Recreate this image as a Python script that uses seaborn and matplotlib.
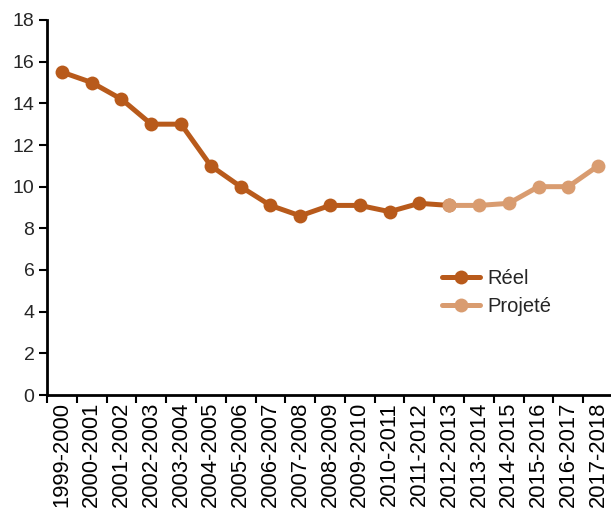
import matplotlib
matplotlib.use("Agg")
import matplotlib.pyplot as plt
import seaborn as sns
import pandas as pd
import numpy as np

years = ["1999-2000", "2000-2001", "2001-2002", "2002-2003", "2003-2004",
         "2004-2005", "2005-2006", "2006-2007", "2007-2008", "2008-2009",
         "2009-2010", "2010-2011", "2011-2012", "2012-2013", "2013-2014",
         "2014-2015", "2015-2016", "2016-2017", "2017-2018"]
reel = [15.5, 15.0, 14.2, 13.0, 13.0, 11.0, 10.0, 9.1, 8.6, 9.1, 9.1, 8.8, 9.2, 9.1]
projete = [9.1, 9.1, 9.2, 10.0, 10.0, 11.0]
projete_start = 13

sns.set_theme(style="white")
plt.rcParams["font.family"] = ["Liberation Sans", "DejaVu Sans"]

df_reel = pd.DataFrame({"pos": np.arange(len(reel)), "val": reel, "serie": "Réel"})
df_proj = pd.DataFrame({"pos": np.arange(projete_start, projete_start + len(projete)),
                        "val": projete, "serie": "Projeté"})

fig = plt.figure(figsize=(6.11, 5.14), dpi=100)
# axes span slightly past the right edge, as the last category is cut off
ax = fig.add_axes([47 / 611, 1 - 395 / 514, (613 - 47) / 611, (395 - 20) / 514])

c_reel = "#B85A1B"
c_proj = "#D99C70"
sns.lineplot(data=df_reel, x="pos", y="val", ax=ax, color=c_reel, lw=3.6,
             marker="o", markersize=10, markeredgewidth=0, label="Réel", zorder=3)
sns.lineplot(data=df_proj, x="pos", y="val", ax=ax, color=c_proj, lw=3.6,
             marker="o", markersize=10, markeredgewidth=0, label="Projeté", zorder=4)

ax.set_xlim(-0.5, len(years) - 0.5)
ax.set_ylim(0, 18)
ax.set_yticks(range(0, 19, 2))
ax.set_xticks(np.arange(len(years) + 1) - 0.5)
ax.set_xticklabels([])
ax.set_xticks(np.arange(len(years)), minor=True)
ax.set_xticklabels(years, minor=True, rotation=90)
ax.tick_params(axis="x", which="major", length=6, width=1.5, color="black", direction="out", bottom=True)
ax.tick_params(axis="x", which="minor", length=0, labelsize=15.8, pad=5, colors="black", bottom=True)
ax.tick_params(axis="y", length=6, width=1.5, color="black", direction="out", labelsize=14, pad=3, left=True)
ax.set_xlabel("")
ax.set_ylabel("")
for s in ["top", "right"]:
    ax.spines[s].set_visible(False)
for s in ["left", "bottom"]:
    ax.spines[s].set_color("black")
    ax.spines[s].set_linewidth(2)

leg = ax.legend(loc="upper left", bbox_to_anchor=(0.665, 0.385), frameon=False,
                prop={"size": 14.5},
                handlelength=1.9, handletextpad=0.4, labelspacing=0.45)

fig.savefig("out.png", dpi=100)
